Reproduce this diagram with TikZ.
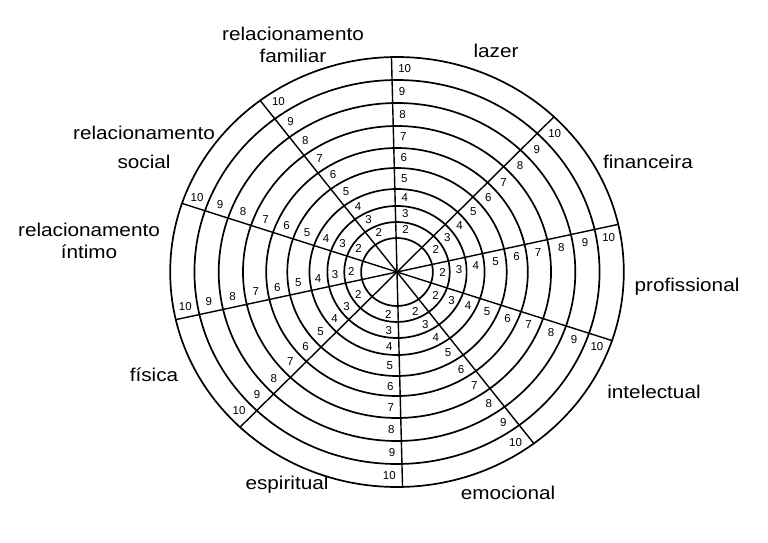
\documentclass[tikz,border=0pt]{standalone}
\usepackage{fontspec}
\setmainfont{Liberation Sans}
\usetikzlibrary{calc}

\begin{document}
\begin{tikzpicture}[
    x=1pt, y=-1pt,
    ring/.style={line width=1.7pt},
    spoke/.style={line width=1.4pt},
    num/.style={font=\fontsize{11.5}{13}\selectfont, inner sep=0.5pt},
    area/.style={font=\fontsize{18.5}{22}\selectfont, xscale=1.12, transform shape, inner sep=0pt, align=center}
]
    \useasboundingbox (0,0) rectangle (768,543);
    \coordinate (c) at (397,272);

    \begin{scope}[shift={(c)}, xscale=1.055, yscale=-1]
        \foreach \r in {34,50,66,83,104,124,146,169,192,215}
            \draw[ring] (0,0) circle (\r);
        \foreach \a in {91.4,46.2,12.8,-18.6,-52.9}
            \draw[spoke] (\a:215) -- (\a+180:215);
        % scale values, clockwise side of each spoke
        \foreach \a [count=\i, evaluate=\a as \b using \a+90] in {91.4,46.2,12.8,-18.6,-52.9,-88.6,-133.8,-167.2,161.4,127.1}
            \foreach \k/\m in {2/42,3/58,4/74.5,5/93.5,6/114,7/135,8/157.5,9/180.5,10/203.5}
                \node[num, anchor=\b] (v\i-\k) at ($(\a:\m)+(\a-90:5.5)$) {\k};
    \end{scope}

    \node[area, anchor=base] (lazer) at (496,58) {lazer};
    \node[area, anchor=base] (financeira) at (648,168) {financeira};
    \node[area, anchor=base] (profissional) at (687,291) {profissional};
    \node[area, anchor=base] (intelectual) at (654,398) {intelectual};
    \node[area, anchor=base] (emocional) at (508,499) {emocional};
    \node[area, anchor=base] (espiritual) at (287,489) {espiritual};
    \node[area, anchor=base] (fisica) at (154,381) {física};
    \node[area] (intimo) at (89,241) {relacionamento\\íntimo};
    \node[area] (social) at (144,147) {relacionamento\\[7pt]social};
    \node[area] (familiar) at (293,45) {relacionamento\\familiar};
\end{tikzpicture}
\end{document}
